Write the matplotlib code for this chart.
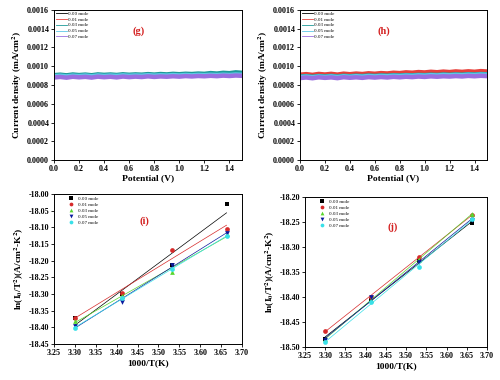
import numpy as np
import matplotlib
matplotlib.use("Agg")
import matplotlib.pyplot as plt
from matplotlib.ticker import FormatStrFormatter

plt.rcParams['font.family'] = ['Liberation Serif', 'DejaVu Serif']
plt.rcParams['mathtext.fontset'] = 'stix'

labels = ["0.00 mole", "0.01 mole", "0.03 mole", "0.05 mole", "0.07 mole"]
line_colors = ["#000000", "#e8403a", "#1c9a98", "#5cc8e6", "#9a6fe0"]
mark_colors = ["#000000", "#d62a2a", "#59d62e", "#0a1a9e", "#38e0e8"]
markers = ["s", "o", "^", "v", "o"]

# Potential grid (V)
potential = np.linspace(0.0, 1.5, 31)

# Panel (g) current density, in units of 1e-4 mA/cm^2
g_000 = [8.98,9.02,8.96,9.03,8.99,9.04,8.97,9.05,9.00,9.03,9.01,9.06,8.99,9.05,9.02,9.07,9.01,9.06,9.04,9.08,9.03,9.09,9.05,9.10,9.06,9.11,9.07,9.12,9.08,9.13,9.10]
g_001 = [8.92,8.97,8.90,8.98,8.93,8.99,8.91,9.00,8.94,8.99,8.95,9.01,8.96,9.00,8.97,9.03,8.98,9.02,8.99,9.04,9.00,9.05,9.01,9.06,9.03,9.07,9.04,9.08,9.05,9.10,9.07]
g_003 = [9.05,9.10,9.03,9.12,9.06,9.11,9.04,9.13,9.08,9.12,9.07,9.14,9.09,9.13,9.10,9.16,9.11,9.17,9.13,9.19,9.15,9.20,9.17,9.22,9.19,9.27,9.22,9.30,9.26,9.35,9.30]
g_005 = [8.94,8.99,8.92,9.00,8.95,9.01,8.93,9.02,8.96,9.01,8.97,9.03,8.98,9.02,8.99,9.05,9.00,9.04,9.01,9.06,9.02,9.07,9.03,9.08,9.05,9.09,9.06,9.10,9.07,9.12,9.09]
g_007 = [8.80,8.86,8.78,8.88,8.82,8.87,8.79,8.89,8.83,8.88,8.81,8.90,8.84,8.89,8.85,8.92,8.86,8.91,8.88,8.93,8.89,8.95,8.91,8.96,8.93,8.98,8.94,9.00,8.96,9.01,8.98]

# Panel (h)
h_000 = [8.95,9.00,8.93,9.01,8.96,9.02,8.95,9.03,8.98,9.04,9.00,9.06,9.02,9.07,9.04,9.09,9.06,9.11,9.08,9.13,9.10,9.15,9.12,9.17,9.14,9.18,9.15,9.20,9.17,9.22,9.19]
h_001 = [9.10,9.16,9.08,9.18,9.12,9.19,9.11,9.21,9.15,9.22,9.17,9.25,9.20,9.27,9.23,9.31,9.27,9.35,9.31,9.38,9.34,9.41,9.36,9.43,9.38,9.45,9.40,9.46,9.41,9.48,9.44]
h_003 = [8.90,8.95,8.88,8.96,8.91,8.97,8.90,8.98,8.93,8.99,8.95,9.01,8.97,9.02,8.99,9.04,9.01,9.06,9.03,9.08,9.05,9.10,9.07,9.12,9.09,9.13,9.10,9.15,9.12,9.17,9.14]
h_005 = [8.85,8.90,8.83,8.91,8.86,8.92,8.85,8.93,8.88,8.94,8.90,8.96,8.92,8.97,8.94,8.99,8.96,9.01,8.98,9.03,9.00,9.05,9.02,9.07,9.04,9.08,9.05,9.10,9.07,9.12,9.09]
h_007 = [8.74,8.80,8.72,8.82,8.76,8.81,8.73,8.83,8.77,8.82,8.76,8.84,8.79,8.85,8.80,8.87,8.82,8.88,8.84,8.90,8.86,8.92,8.88,8.93,8.90,8.95,8.91,8.97,8.93,8.98,8.95]

# Panels (i), (j): 1000/T and ln(I0/T^2)
inv_T = [3.300, 3.413, 3.533, 3.663]
i_vals = [
    [-18.373, -18.300, -18.213, -18.030],
    [-18.373, -18.298, -18.168, -18.106],
    [-18.381, -18.306, -18.233, -18.120],
    [-18.396, -18.325, -18.214, -18.116],
    [-18.401, -18.313, -18.225, -18.126],
]
j_vals = [
    [-18.483, -18.405, -18.328, -18.252],
    [-18.467, -18.400, -18.320, -18.235],
    [-18.484, -18.405, -18.325, -18.233],
    [-18.487, -18.400, -18.330, -18.245],
    [-18.490, -18.410, -18.340, -18.243],
]

fig = plt.figure(figsize=(5.0, 3.8), dpi=100)
W, H = 500, 380
def ax_at(x0, y0, x1, y1):
    return fig.add_axes([x0 / W, 1 - y1 / H, (x1 - x0) / W, (y1 - y0) / H])

ax_g = ax_at(54, 10, 242, 160)
ax_h = ax_at(300, 10, 487, 160)
ax_i = ax_at(54, 194, 242, 344)
ax_j = ax_at(305, 197, 487, 347)

tick_fs = 5.8
lab_fs = 6.8

def style(ax):
    ax.tick_params(labelsize=tick_fs, length=2, width=0.6, pad=1.5)
    for s in ax.spines.values():
        s.set_linewidth(0.7)
    for t in ax.get_xticklabels() + ax.get_yticklabels():
        t.set_fontweight('bold')

for ax, series, tag in [(ax_g, [g_000, g_001, g_003, g_005, g_007], "(g)"),
                        (ax_h, [h_000, h_001, h_003, h_005, h_007], "(h)")]:
    for k, ys in enumerate(series):
        ax.plot(potential, np.array(ys) * 1e-4, color=line_colors[k], lw=3.2,
                label=labels[k], solid_joinstyle='miter')
    ax.set_xlim(0, 1.5)
    ax.set_ylim(0, 0.0016)
    ax.set_xticks(np.arange(0, 1.41, 0.2))
    ax.set_yticks(np.arange(0, 0.00161, 0.0002))
    ax.yaxis.set_major_formatter(FormatStrFormatter('%.4f'))
    ax.xaxis.set_major_formatter(FormatStrFormatter('%.1f'))
    ax.set_xlabel("Potential (V)", fontsize=lab_fs, fontweight='bold', labelpad=1)
    ax.set_ylabel("Current density (mA/cm$^\\mathbf{2}$)", fontsize=lab_fs, fontweight='bold', labelpad=2)
    leg = ax.legend(loc='upper left', fontsize=3.6, frameon=False, handlelength=2.2,
                    handletextpad=0.4, labelspacing=0.25, borderpad=0.2, borderaxespad=0.1)
    for l in leg.get_lines():
        l.set_linewidth(0.6)
    ax.text(0.45, 0.86, tag, transform=ax.transAxes, color='#d42020', fontsize=7.5,
            fontweight='bold', ha='center', va='center')
    style(ax)

for ax, vals, tag, ylim, yt in [(ax_i, i_vals, "(i)", (-18.45, -18.0), np.arange(-18.45, -17.999, 0.05)),
                                 (ax_j, j_vals, "(j)", (-18.50, -18.20), np.arange(-18.50, -18.199, 0.05))]:
    xs = np.array(inv_T)
    for k, ys in enumerate(vals):
        p = np.polyfit(xs, ys, 1)
        ax.plot(xs, np.polyval(p, xs), color=mark_colors[k], lw=0.5)
        ax.plot(xs, ys, linestyle='none', marker=markers[k], color=mark_colors[k],
                markersize=3.4, label=labels[k], markeredgewidth=0)
    ax.set_xlim(3.25, 3.70)
    ax.set_ylim(*ylim)
    ax.set_xticks(np.arange(3.25, 3.701, 0.05))
    ax.set_yticks(yt)
    ax.yaxis.set_major_formatter(FormatStrFormatter('%.2f'))
    ax.xaxis.set_major_formatter(FormatStrFormatter('%.2f'))
    ax.set_xlabel("1000/T(K)", fontsize=lab_fs, fontweight='bold', labelpad=2)
    ax.set_ylabel("ln(I$_\\mathbf{0}$/T$^\\mathbf{2}$)(A/cm$^\\mathbf{2}$-K$^\\mathbf{2}$)",
                  fontsize=lab_fs, fontweight='bold', labelpad=2)
    ax.legend(loc='upper left', fontsize=3.6, frameon=False, handletextpad=0.5,
              labelspacing=0.3, borderpad=0.2, borderaxespad=0.3, markerscale=0.8,
              bbox_to_anchor=(0.05, 1.0))
    ax.text(0.48, 0.82 if tag == "(i)" else 0.80, tag, transform=ax.transAxes, color='#d42020',
            fontsize=7.5, fontweight='bold', ha='center', va='center')
    style(ax)

fig.savefig("out.png", dpi=100)
